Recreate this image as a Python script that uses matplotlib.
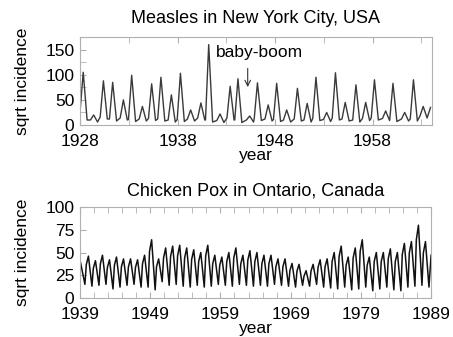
import numpy as np
import matplotlib
matplotlib.use("Agg")
import matplotlib.pyplot as plt

plt.rcParams['font.family'] = ['Liberation Sans', 'DejaVu Sans']

# Measles, New York City: epidemic peaks
meas_peak_t = [1928.33, 1929.4, 1930.4, 1931.35, 1932.45, 1933.3, 1934.4, 1935.35,
               1936.3, 1937.37, 1938.3, 1939.35, 1940.4, 1941.2, 1942.36, 1943.4,
               1944.2, 1945.4, 1946.2, 1947.3, 1948.17, 1949.2, 1950.3, 1951.3,
               1952.2, 1953.3, 1954.2, 1955.2, 1956.3, 1957.3, 1958.2, 1959.35,
               1960.1, 1961.3, 1962.2, 1963.2]
meas_peak_v = [105, 20, 88, 85, 50, 99, 37, 82, 95, 60, 103, 30, 44, 160, 22, 77,
               92, 18, 84, 40, 83, 30, 73, 43, 95, 25, 104, 45, 80, 45, 90, 28,
               83, 25, 90, 37]
# low point after each peak
meas_trough_v = [10, 6, 12, 8, 10, 7, 8, 9, 8, 6, 7, 8, 10, 6, 5, 10, 5, 6,
                 9, 8, 7, 6, 8, 6, 9, 7, 10, 8, 6, 9, 10, 9, 7, 8, 8, 14]
meas_start = (1928.0, 25)
meas_end = (1963.95, 35)

# Chicken pox, Ontario: yearly peak and trough, 1939..1988
cp_years = list(range(1939, 1989))
cp_peak = [42, 46, 41, 47, 42, 45, 43, 43, 42, 47,
           64, 43, 55, 57, 58, 55, 53, 50, 58, 47,
           45, 50, 55, 47, 52, 50, 47, 47, 43, 43,
           38, 37, 30, 37, 42, 43, 50, 57, 45, 55,
           64, 45, 50, 50, 54, 50, 60, 62, 80, 62]
cp_trough = [15, 13, 14, 15, 10, 12, 14, 15, 12, 12,
             9, 18, 14, 15, 13, 12, 14, 12, 13, 15,
             14, 13, 15, 14, 13, 14, 13, 15, 14, 13,
             12, 14, 13, 15, 12, 11, 10, 12, 9, 10,
             12, 8, 10, 12, 9, 8, 12, 13, 14, 12]
cp_start = (1939.0, 42)
cp_end = (1989.0, 47)

# build vertex lists
mt, mv = [meas_start[0]], [meas_start[1]]
for t, p, tr in zip(meas_peak_t, meas_peak_v, meas_trough_v):
    mt += [t - 0.33, t, t + 0.4]
    mv += [max(tr + 4, mv[-1]), p, tr]
mt.append(meas_end[0]); mv.append(meas_end[1])

ct, cv = [cp_start[0]], [cp_start[1]]
for y, p, tr in zip(cp_years, cp_peak, cp_trough):
    if y > cp_years[0]:
        ct += [y - 0.1, y + 0.2]
        cv += [0.8 * p, p]
    ct.append(y + 0.7)
    cv.append(tr)
ct.append(cp_end[0]); cv.append(cp_end[1])

fig = plt.figure(figsize=(4.53, 3.37), dpi=100)
ax1 = fig.add_axes([0.1766, 0.629, 0.777, 0.261])
ax2 = fig.add_axes([0.1766, 0.1157, 0.775, 0.270])

frame = '#b0b0b0'
for ax in (ax1, ax2):
    for s in ax.spines.values():
        s.set_color(frame)
    ax.tick_params(direction='in', length=4, color=frame, labelsize=12.5,
                   top=True, pad=4)
    ax.tick_params(axis='x', pad=6.5)
    ax.tick_params(which='minor', direction='in', length=4, color=frame, top=True)
    ax.set_xlabel('year', fontsize=12.5, labelpad=-0.5)
    ax.set_ylabel('sqrt incidence', fontsize=12.5, labelpad=11)

ax1.plot(mt, mv, color='#3a3a3a', lw=1.0)
ax1.set_xlim(1928, 1964.1)
ax1.set_ylim(0, 175)
ax1.set_xticks([1928, 1938, 1948, 1958])
ax1.set_xticks([1933, 1943, 1953, 1963], minor=True)
ax1.set_yticks([0, 50, 100, 150])
ax1.set_yticks([25, 75, 125, 175], minor=True)
ax1.set_title('Measles in New York City, USA', fontsize=13, pad=10)
ax1.annotate('baby-boom', xy=(1945.2, 70), xytext=(1941.95, 145),
             fontsize=12.5, va='center', ha='left')
ax1.annotate('', xy=(1945.2, 70), xytext=(1945.2, 118),
             arrowprops=dict(arrowstyle='->', color='#333333', lw=0.8))

ax2.plot(ct, cv, color='#111111', lw=1.1)
ax2.set_xlim(1939, 1989)
ax2.set_ylim(0, 100)
ax2.set_xticks([1939, 1949, 1959, 1969, 1979, 1989])
ax2.set_xticks(np.arange(1941, 1989, 2), minor=True)
ax2.set_yticks([0, 25, 50, 75, 100])
ax2.set_title('Chicken Pox in Ontario, Canada', fontsize=13, pad=8)

fig.savefig('out.png', dpi=100)
